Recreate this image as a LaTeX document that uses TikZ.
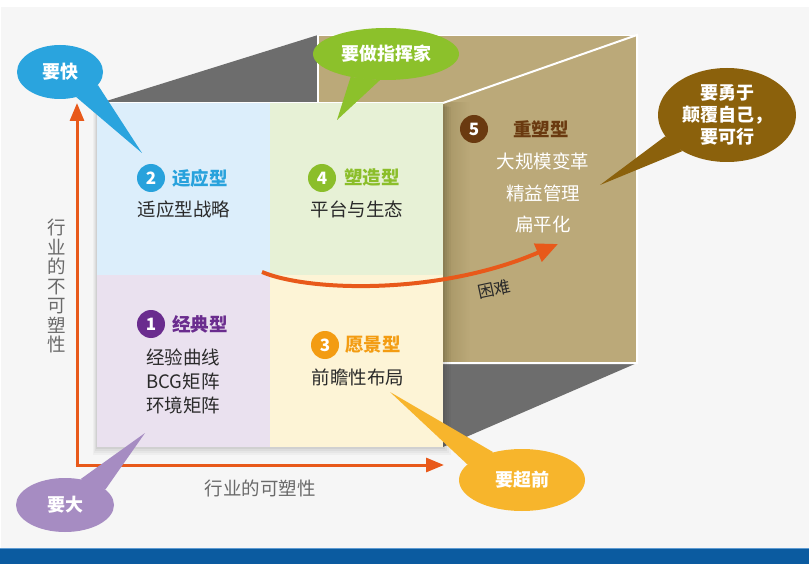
\documentclass[tikz,border=0pt]{standalone}
\usepackage{fontspec}
\setmainfont{Noto Sans CJK SC}
\usetikzlibrary{arrows.meta,shapes.geometric}
\definecolor{bgc}{HTML}{F6F6F6}
\definecolor{barc}{HTML}{0B5BA0}
\definecolor{barline}{HTML}{5E9BD2}
\definecolor{tanc}{HTML}{BBA979}
\definecolor{tandark}{HTML}{A59464}
\definecolor{grayc}{HTML}{6D6D6D}
\definecolor{qblue}{HTML}{DCEEFB}
\definecolor{qgreen}{HTML}{E7F1D6}
\definecolor{qpurple}{HTML}{EAE1EF}
\definecolor{qyellow}{HTML}{FDF4D6}
\definecolor{axisc}{HTML}{E8591A}
\definecolor{axtext}{HTML}{6A6A6A}
\definecolor{cblue}{HTML}{28A2DC}
\definecolor{cgreen}{HTML}{8BBE2A}
\definecolor{cpurple}{HTML}{6A2C8E}
\definecolor{corange}{HTML}{F39C12}
\definecolor{cbrown}{HTML}{6A3A10}
\definecolor{bblue}{HTML}{2AA4DE}
\definecolor{bgreen}{HTML}{8CC12B}
\definecolor{bbrown}{HTML}{8B610C}
\definecolor{byellow}{HTML}{F7B52C}
\definecolor{bpurple}{HTML}{A68CC2}
\definecolor{txt}{HTML}{2A2A2A}
\begin{document}
\begin{tikzpicture}[x=1pt,y=-1pt,
  body/.style={font=\fontsize{18.5}{22}\selectfont, text=txt, inner sep=0pt},
  numc/.style={circle, fill=#1, minimum size=28pt, inner sep=0pt, text=white, font=\fontsize{17}{17}\selectfont\bfseries},
  qtitle/.style={anchor=west, inner sep=0pt, text=#1, font=\fontsize{18.5}{22}\selectfont\bfseries},
  bubble/.style={ellipse, fill=#1, inner sep=0pt, text=white, font=\fontsize{18}{22}\selectfont\bfseries, align=center},
  axisline/.style={draw=axisc, line width=3pt, -{Triangle[length=18pt,width=14pt]}},
  quad/.style={inner sep=0pt, draw=none, minimum width=173pt, minimum height=172pt}
]
\useasboundingbox (0,0) rectangle (809,564);
\fill[white] (0,0) rectangle (809,564);
\fill[bgc] (1,7) rectangle (809,548);
\fill[barc] (0,548) rectangle (809,564);
\draw[barline, line width=1pt] (0,548.5) -- (809,548.5);

% back box
\fill[tanc] (318,35) rectangle (637,363);
\shade[left color=tandark, right color=tanc] (443,103) rectangle (470,363);
\fill[grayc] (100,103) -- (318,35) -- (318,103) -- cycle;
\fill[grayc] (443,363) -- (637,363) -- (443,447) -- cycle;
\draw[white, line width=2pt] (443,103) -- (637,35) -- (637,363) -- (443,363);
\draw[white, line width=1.5pt] (318,35) -- (318,103);
\draw[white, line width=0.8pt] (318,35) -- (637,35);

% soft shadow of front face
\foreach \d/\o in {8/0.03,6/0.03,4/0.04,2/0.05}
  \fill[black, opacity=\o] (97-\d/2,103+\d/2) rectangle (443+\d,447+\d);

% front quadrants
\node[quad, fill=qblue]   (q2) at (183.5,189) {};
\node[quad, fill=qgreen]  (q4) at (356.5,189) {};
\node[quad, fill=qpurple] (q1) at (183.5,361) {};
\node[quad, fill=qyellow] (q3) at (356.5,361) {};
\draw[white, line width=1pt] (97,103) -- (443,103);

% axes
\coordinate (org) at (77,465);
\coordinate (ytop) at (77,103);
\coordinate (xend) at (444,465);
\draw[axisline] (org) -- (ytop);
\draw[axisline] ([xshift=-1.5pt]org) -- (xend);
\node[font=\fontsize{18.5}{19.5}\selectfont, text=axtext, align=center, inner sep=0pt] (ylab) at (57,286) {行\\业\\的\\不\\可\\塑\\性};
\node[font=\fontsize{18.5}{22}\selectfont, text=axtext, inner sep=0pt] (xlab) at (260,488) {行业的可塑性};

% quadrant 2
\node[numc=cblue] (n2) at (151,178) {2};
\node[qtitle=cblue] (t2) at (172,178) {适应型};
\node[body] (b2) at (184,209) {适应型战略};
% quadrant 4
\node[numc=cgreen] (n4) at (322,178) {4};
\node[qtitle=cgreen] (t4) at (344,178) {塑造型};
\node[body] (b4) at (357,209) {平台与生态};
% quadrant 1
\node[numc=cpurple] (n1) at (151,324) {1};
\node[qtitle=cpurple] (t1) at (172,324) {经典型};
\node[body, align=center, font=\fontsize{18.5}{24}\selectfont] (b1) at (183,381) {经验曲线\\BCG矩阵\\环境矩阵};
% quadrant 3
\node[numc=corange] (n3) at (325,345) {3};
\node[qtitle=corange] (t3) at (345,345) {愿景型};
\node[body] (b3) at (358,377) {前瞻性布局};
% panel 5
\node[numc=cbrown] (n5) at (474,129) {5};
\node[qtitle=cbrown] (t5) at (513,129) {重塑型};
\node[body, text=white, align=center, font=\fontsize{18.5}{31.5}\selectfont] (b5) at (543,193) {大规模变革\\精益管理\\扁平化};

% curved arrow
\coordinate (ca) at (262,272);
\coordinate (cb) at (558,244);
\draw[axisc, line width=4pt, -{Triangle[length=22pt,width=19pt]}] (ca) .. controls (310,292) and (440,295) .. (cb);
\node[rotate=12, font=\fontsize{16.5}{16.5}\selectfont, text=txt, inner sep=0pt] (hard) at (494,289) {困难};

% bubbles
\node[bubble=bblue, minimum width=86pt, minimum height=54pt] (kuai) at (60,72) {要快};
\coordinate (kuaitip) at (142,153);
\fill[bblue] (kuai.-57) -- (kuaitip) -- (kuai.-19) -- cycle;

\node[bubble=bgreen, minimum width=146pt, minimum height=52pt] (zhi) at (386,54) {要做指挥家};
\coordinate (zhitip) at (337,120);
\fill[bgreen] (zhi.-147) -- (zhitip) -- (zhi.-103) -- cycle;

\node[bubble=bbrown, minimum width=138pt, minimum height=94pt, font=\fontsize{18}{22}\selectfont\bfseries] (yong) at (727,115) {要勇于\\颠覆自己，\\要可行};
\coordinate (yongtip) at (600,185);
\fill[bbrown] (yong.-161) -- (yongtip) -- (yong.-141) -- cycle;

\node[bubble=byellow, minimum width=126pt, minimum height=62pt] (chao) at (522,480) {要超前};
\coordinate (chaotip) at (390,392);
\fill[byellow] (chao.164) -- (chaotip) -- (chao.136) -- cycle;

\node[bubble=bpurple, minimum width=98pt, minimum height=54pt] (da) at (65,505) {要大};
\coordinate (datip) at (145,433);
\fill[bpurple] (da.59) -- (datip) -- (da.21) -- cycle;
\end{tikzpicture}
\end{document}
